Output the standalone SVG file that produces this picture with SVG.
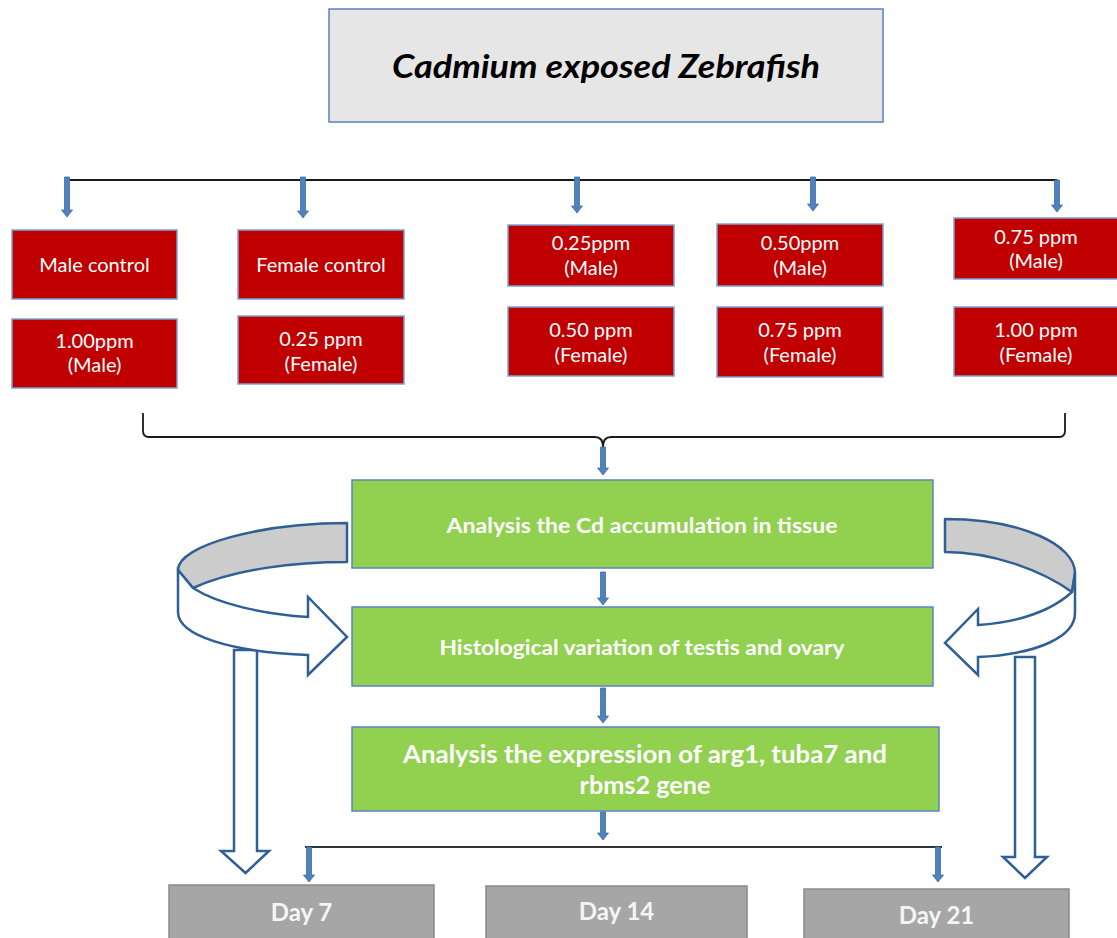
<svg xmlns="http://www.w3.org/2000/svg" width="1117" height="938" viewBox="0 0 1117 938">
<style>
.title{fill:#e7e6e6;stroke:#5b84b8;stroke-width:1.5}
.red{fill:#c00000;stroke:#7aa3d4;stroke-width:1.5}
.green{fill:#92d050;stroke:#5b84c4;stroke-width:1.5}
.gray{fill:#a6a6a6;stroke:#8a8a8a;stroke-width:1.5}
.rt{font-family:Lato,"Liberation Sans",sans-serif;font-size:20px;fill:#ffffff;text-anchor:middle}
.gt{font-family:Lato,"Liberation Sans",sans-serif;font-weight:bold;fill:#ffffff;text-anchor:middle}
.dt{font-family:Lato,"Liberation Sans",sans-serif;font-weight:bold;font-size:24px;fill:#f5f5f5;text-anchor:middle}
.ttl{font-family:Lato,"Liberation Sans",sans-serif;font-weight:bold;font-style:italic;font-size:33px;fill:#000000;text-anchor:middle}
.ln{fill:none;stroke:#1a1a1a;stroke-width:1.8}
.ar{fill:#4f81bd;stroke:#3d6ea8;stroke-width:0.8}
.loopg{fill:#cccccc;stroke:#2f5f95;stroke-width:2.5;stroke-linejoin:round}
.loopw{fill:#ffffff;stroke:#2f5f95;stroke-width:2.5;stroke-linejoin:miter}
</style>

<g id="title-node">
<rect class="title" x="329" y="9" width="554" height="113"/>
<text class="ttl" x="606" y="78" textLength="428" lengthAdjust="spacingAndGlyphs">Cadmium exposed Zebrafish</text>
</g>

<g id="male-control">
<rect class="red" x="12" y="230" width="165" height="69"/>
<text class="rt" x="94.5" y="272">Male control</text>
</g>
<g id="male-100">
<rect class="red" x="12" y="319" width="165" height="69"/>
<text class="rt" x="94.5" y="348">1.00ppm</text>
<text class="rt" x="94.5" y="372">(Male)</text>
</g>
<g id="female-control">
<rect class="red" x="238" y="230" width="166" height="69"/>
<text class="rt" x="321" y="272">Female control</text>
</g>
<g id="female-025">
<rect class="red" x="238" y="316" width="166" height="68"/>
<text class="rt" x="321" y="346">0.25 ppm</text>
<text class="rt" x="321" y="371">(Female)</text>
</g>
<g id="male-025">
<rect class="red" x="508" y="225" width="166" height="61"/>
<text class="rt" x="591" y="250">0.25ppm</text>
<text class="rt" x="591" y="275">(Male)</text>
</g>
<g id="female-050">
<rect class="red" x="508" y="307" width="166" height="69"/>
<text class="rt" x="591" y="337">0.50 ppm</text>
<text class="rt" x="591" y="362">(Female)</text>
</g>
<g id="male-050">
<rect class="red" x="717" y="224" width="166" height="62"/>
<text class="rt" x="800" y="250">0.50ppm</text>
<text class="rt" x="800" y="275">(Male)</text>
</g>
<g id="female-075">
<rect class="red" x="717" y="307" width="166" height="70"/>
<text class="rt" x="800" y="337">0.75 ppm</text>
<text class="rt" x="800" y="362">(Female)</text>
</g>
<g id="male-075">
<rect class="red" x="954" y="218" width="168" height="61"/>
<text class="rt" x="1036" y="244">0.75 ppm</text>
<text class="rt" x="1036" y="268">(Male)</text>
</g>
<g id="female-100">
<rect class="red" x="954" y="307" width="168" height="69"/>
<text class="rt" x="1036" y="337">1.00 ppm</text>
<text class="rt" x="1036" y="362">(Female)</text>
</g>

<g id="hollow-arrows">
<path class="loopw" d="M234,650 L234,851 L221,851 L245.5,873 L269,851 L257,851 L257,650 Z"/>
<path class="loopw" d="M1015,657 L1015,857 L1003,857 L1025,878 L1047,857 L1035,857 L1035,657 Z"/>
</g>

<g id="loop-left">
<path class="loopg" d="M347,523 C262,523 178,545 178,570 L193,588 C235,569 295,562 347,562 Z"/>
<path class="loopw" d="M178,570 L193,588 C218,604 262,614 308,617 L308,597 L347,637 L308,675 L308,655 C232,652 178,636 178,612 Z"/>
</g>
<g id="loop-right">
<path class="loopg" d="M945,519 C1022,519 1075,545 1075,573 L1072,592 C1040,569 990,552 945,552 Z"/>
<path class="loopw" d="M1075,573 L1072,592 C1050,612 1020,622 978,625 L978,609 L945,643 L978,675 L978,657 C1040,654 1075,636 1075,613 Z"/>
</g>

<g id="cd-accumulation">
<rect class="green" x="352" y="480" width="581" height="88"/>
<text class="gt" x="642" y="533" font-size="21" textLength="391" lengthAdjust="spacingAndGlyphs">Analysis the Cd accumulation in tissue</text>
</g>
<g id="histology">
<rect class="green" x="352" y="607" width="581" height="79"/>
<text class="gt" x="642" y="655" font-size="21" textLength="405" lengthAdjust="spacingAndGlyphs">Histological variation of testis and ovary</text>
</g>
<g id="expression">
<rect class="green" x="352" y="727" width="587" height="84"/>
<text class="gt" x="645" y="763" font-size="24" textLength="484" lengthAdjust="spacingAndGlyphs">Analysis the expression of arg1, tuba7 and</text>
<text class="gt" x="645" y="794" font-size="24" textLength="131" lengthAdjust="spacingAndGlyphs">rbms2 gene</text>
</g>

<g id="day7">
<rect class="gray" x="169" y="885" width="265" height="60"/>
<text class="dt" x="301.5" y="921">Day 7</text>
</g>
<g id="day14">
<rect class="gray" x="486" y="886" width="261" height="60"/>
<text class="dt" x="616.5" y="920">Day 14</text>
</g>
<g id="day21">
<rect class="gray" x="804" y="889" width="265" height="60"/>
<text class="dt" x="936.5" y="924">Day 21</text>
</g>

<g id="connectors">
<path class="ln" d="M67,180 L1057,180"/>
<path class="ln" d="M143,413 L143,431 Q143,437 149,437 L595,437 Q603,437 603,447 Q603,437 611,437 L1059,437 Q1065,437 1065,431 L1065,413"/>
<path class="ln" d="M305,847 L942,847" style="stroke:#333333;stroke-width:2.2"/>
<path class="ar" d="M64.5,177 L69.5,177 L69.5,210 L72.5,210 L67,217 L61.5,210 L64.5,210 Z"/>
<path class="ar" d="M300.5,177 L305.5,177 L305.5,211 L308.5,211 L303,218 L297.5,211 L300.5,211 Z"/>
<path class="ar" d="M574.5,177 L579.5,177 L579.5,206 L582.5,206 L577,213 L571.5,206 L574.5,206 Z"/>
<path class="ar" d="M810.5,177 L815.5,177 L815.5,204 L818.5,204 L813,211 L807.5,204 L810.5,204 Z"/>
<path class="ar" d="M1054.5,180 L1059.5,180 L1059.5,205 L1062.5,205 L1057,212 L1051.5,205 L1054.5,205 Z"/>
<path class="ar" d="M600.5,447 L605.5,447 L605.5,468 L608.5,468 L603,475 L597.5,468 L600.5,468 Z"/>
<path class="ar" d="M600.5,572 L605.5,572 L605.5,598 L608.5,598 L603,605 L597.5,598 L600.5,598 Z"/>
<path class="ar" d="M600.5,688 L605.5,688 L605.5,716 L608.5,716 L603,723 L597.5,716 L600.5,716 Z"/>
<path class="ar" d="M600.5,812 L605.5,812 L605.5,833 L608.5,833 L603,840 L597.5,833 L600.5,833 Z"/>
<path class="ar" d="M306.5,847 L311.5,847 L311.5,875 L314.5,875 L309,882 L303.5,875 L306.5,875 Z"/>
<path class="ar" d="M935.5,847 L940.5,847 L940.5,875 L943.5,875 L938,882 L932.5,875 L935.5,875 Z"/>
</g>
</svg>
